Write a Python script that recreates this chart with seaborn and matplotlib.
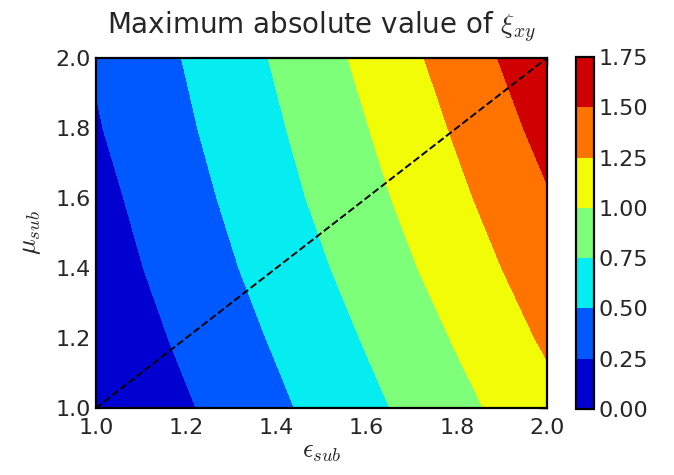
import numpy as np
import matplotlib
matplotlib.use("Agg")
import matplotlib.pyplot as plt
import seaborn as sns

# grid
eps_sub = [1.0, 1.2, 1.4, 1.6, 1.8, 2.0]
mu_sub = [1.0, 1.2, 1.4, 1.6, 1.8, 2.0]
# one row per mu value, columns follow eps_sub
xi_max = [
    [0.00, 0.225, 0.453, 0.688, 0.929, 1.170],
    [0.066, 0.296, 0.527, 0.769, 1.020, 1.286],
    [0.127, 0.361, 0.599, 0.850, 1.115, 1.385],
    [0.177, 0.415, 0.665, 0.926, 1.199, 1.480],
    [0.232, 0.468, 0.721, 0.992, 1.278, 1.578],
    [0.270, 0.513, 0.774, 1.059, 1.358, 1.673],
]
levels = [0.0, 0.25, 0.5, 0.75, 1.0, 1.25, 1.5, 1.75]
diag = [1.0, 2.0]

sns.set_style("white", {"xtick.direction": "in", "ytick.direction": "in",
                        "axes.edgecolor": "black"})
plt.rcParams["font.family"] = ["DejaVu Sans"]
plt.rcParams["mathtext.fontset"] = "cm"

fig = plt.figure(figsize=(6.74, 4.75), dpi=100)
ax = fig.add_axes([0.1424, 0.141, 0.669, 0.737])
cax = fig.add_axes([0.8546, 0.139, 0.0267, 0.741])

cs = ax.contourf(eps_sub, mu_sub, np.array(xi_max), levels=levels, cmap="jet")
sns.lineplot(x=diag, y=diag, ax=ax, color="black", linestyle="--", linewidth=1.4)

ax.set_xlim(1.0, 2.0)
ax.set_ylim(1.0, 2.0)
ax.set_xticks([1.0, 1.2, 1.4, 1.6, 1.8, 2.0])
ax.set_yticks([1.0, 1.2, 1.4, 1.6, 1.8, 2.0])
ax.tick_params(axis="both", which="both", direction="in", length=5, width=1,
               top=True, right=True, labelsize=16, colors="black", labelcolor="#262626")
ax.tick_params(axis="x", pad=7)
for s in ax.spines.values():
    s.set_linewidth(1.6)
    s.set_color("black")

ax.set_xlabel(r"$\epsilon_{sub}$", fontsize=19, labelpad=0)
ax.set_ylabel(r"$\mu_{sub}$", fontsize=19, labelpad=9)
ax.set_title(r"Maximum absolute value of $\xi_{xy}$", fontsize=20, pad=17,
             color="#262626")

cb = fig.colorbar(cs, cax=cax, ticks=levels, format="%.2f")
cb.ax.tick_params(direction="in", length=5, labelsize=16, labelcolor="#262626")
cb.outline.set_linewidth(1.6)
cb.outline.set_edgecolor("black")

fig.savefig("out.png", dpi=100)
